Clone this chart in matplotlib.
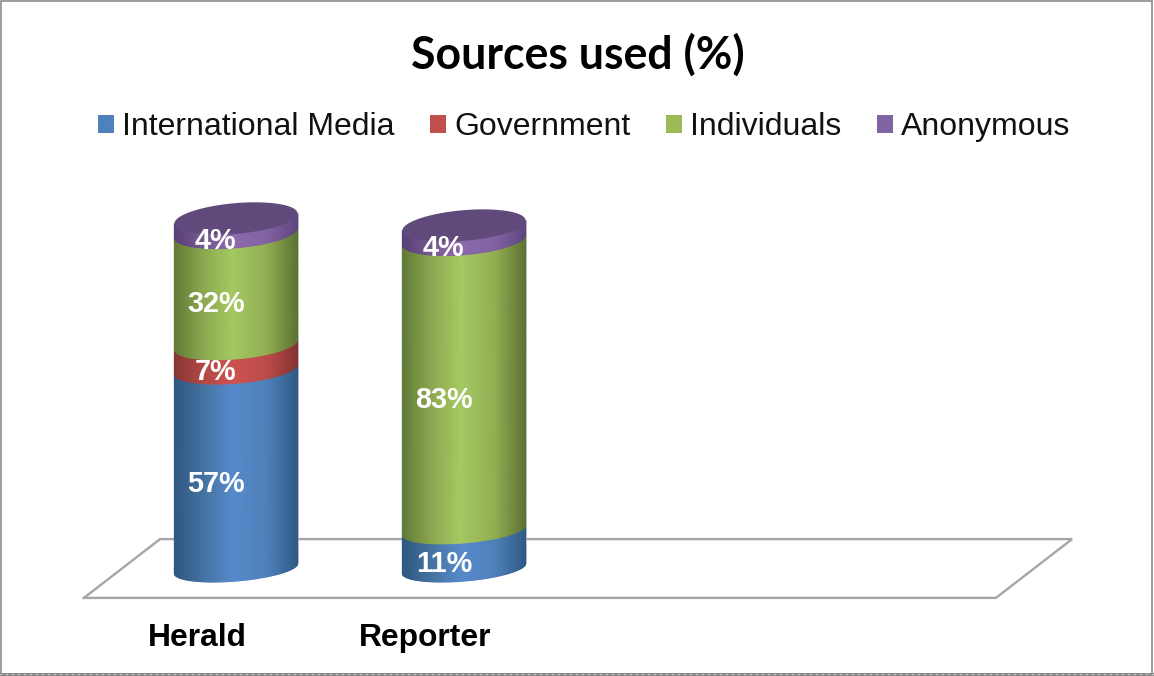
import numpy as np
import matplotlib
matplotlib.use("Agg")
import matplotlib.pyplot as plt
from matplotlib.colors import LinearSegmentedColormap
from matplotlib.patches import Patch, Rectangle

papers = ["Herald", "Reporter"]
series_names = ["International Media", "Government", "Individuals", "Anonymous"]
international = [57, 11]
government = [7, 0]
individuals = [32, 83]
anonymous = [4, 4]

LEGEND_COLORS = ["#4f81bd", "#c0504d", "#9bbb59", "#8064a2"]
SHADES = [
    ["#2f5883", "#44719f", "#568acb", "#4f81ba", "#2f5a86"],
    ["#8a3533", "#b04845", "#cd5350", "#bb4c49", "#843331"],
    ["#627b37", "#8ba650", "#a5c962", "#93ae53", "#5c7332"],
    ["#5a4078", "#75588f", "#8c69ae", "#8263a2", "#5f4680"],
]
CAP_COLOR = "#604a7b"
FLOOR_COLOR = "#a6a6a6"
EDGE_COLOR = "#b8b8b8"

BAR_WIDTH = 0.54
ELL_TILT = 1.43  # right side of the ellipse sits higher than the left
PX_PER_PCT = 3.5
PX_PER_CAT = 228


def ell_b(level):
    # perspective: ellipses open up slightly towards the top of the bar
    return 3.6 + 0.008 * level


fig = plt.figure(figsize=(11.54, 6.76), dpi=100, facecolor="white")
ax = fig.add_axes([0, 0, 1, 1])
ax.axis("off")
ax.set_xlim(-236 / PX_PER_CAT, (1154 - 236) / PX_PER_CAT)
ax.set_ylim((568.5 - 676) / PX_PER_PCT, 568.5 / PX_PER_PCT)


def front_arc(cx, level, n=80):
    t = np.linspace(0, np.pi, n)
    xs = cx + BAR_WIDTH / 2 * np.cos(t)
    ys = level + ELL_TILT * np.cos(t) - ell_b(level) * np.sin(t)
    return xs, ys


def draw_segment(cx, low, high, shade):
    # shaded cylinder slice between two front arcs
    cmap = LinearSegmentedColormap.from_list("s", list(zip([0, 0.22, 0.47, 0.75, 1], shade)))
    xs, y_low = front_arc(cx, low)
    _, y_high = front_arc(cx, high)
    X = np.vstack([xs, xs])
    Y = np.vstack([y_low, y_high])
    C = (X - (cx - BAR_WIDTH / 2)) / BAR_WIDTH
    ax.pcolormesh(X, Y, C, cmap=cmap, vmin=0, vmax=1, shading="gouraud", zorder=3)


# floor of the 3D plot, four category slots wide
depth = 0.167
floor_y = 8.4
floor_x = [-0.5 - depth, 3.5 - depth, 3.5 + depth, -0.5 + depth, -0.5 - depth]
floor_v = [-floor_y, -floor_y, floor_y, floor_y, -floor_y]
ax.plot(floor_x, floor_v, color=FLOOR_COLOR, lw=1.7, zorder=1, solid_joinstyle="miter")

all_series = [international, government, individuals, anonymous]
for i, paper in enumerate(papers):
    base = 0
    for values, shade in zip(all_series, SHADES):
        val = values[i]
        if val == 0:
            continue
        draw_segment(i, base, base + val, shade)
        ax.text(i - 0.088, base + val / 2 - 4.3, f"{val}%", color="white", fontsize=20.8,
                fontweight="bold", family="Liberation Sans", ha="center", va="center", zorder=6)
        base += val
    # soft outline down the sides, then the top cap
    left, right = i - BAR_WIDTH / 2, i + BAR_WIDTH / 2
    ax.plot([left, left], [-ELL_TILT, base - ELL_TILT], color=EDGE_COLOR, lw=0.8, alpha=0.7, zorder=2.5)
    ax.plot([right, right], [ELL_TILT, base + ELL_TILT], color=EDGE_COLOR, lw=0.8, alpha=0.7, zorder=2.5)
    t = np.linspace(0, 2 * np.pi, 160)
    ax.fill(i + BAR_WIDTH / 2 * np.cos(t), base + ELL_TILT * np.cos(t) + ell_b(base) * np.sin(t),
            color=CAP_COLOR, lw=0, zorder=4)
    ax.text(i - 0.17, -19.8, paper, color="black", fontsize=22.9, fontweight="bold",
            family="Liberation Sans", ha="center", va="center", zorder=6)

fig.text(578 / 1154, 1 - 55 / 676, "Sources used (%)", fontsize=32.1, fontweight="bold",
         family="Lato", ha="center", va="center", color="black")

handles = [Patch(facecolor=c, edgecolor="none", label=n) for c, n in zip(LEGEND_COLORS, series_names)]
fig.legend(handles=handles, loc="center", bbox_to_anchor=(584.5 / 1154, 1 - 127 / 676), ncol=4, frameon=False,
           prop={"family": "Liberation Sans", "size": 23}, labelcolor="#111111",
           handlelength=0.5, handleheight=0.5, handletextpad=0.25, columnspacing=1.12)

# thin frame with dotted bottom edge
frame = "#8c8c8c"
fig.add_artist(Rectangle((0.0012, 0), 0.9972, 0.998, transform=fig.transFigure, fill=False,
                         edgecolor=frame, lw=1.2))
fig.add_artist(Rectangle((0, 0), 1, 3 / 676, transform=fig.transFigure, facecolor=frame, edgecolor="none"))
fig.add_artist(plt.Line2D([0, 1], [2.5 / 676, 2.5 / 676], transform=fig.transFigure, color="white",
                          lw=0.72, linestyle=(0, (1, 5))))

fig.savefig("out.png", dpi=100, facecolor="white")
